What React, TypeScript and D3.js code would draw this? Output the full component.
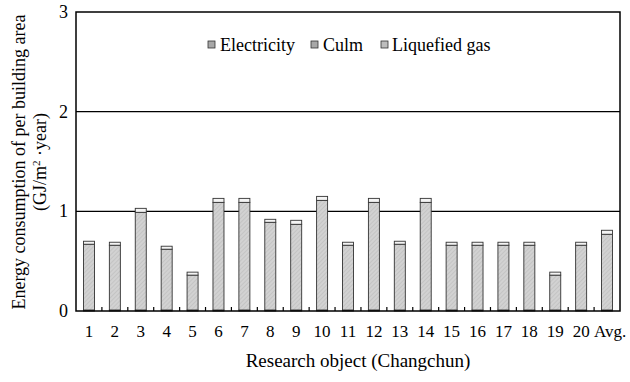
import React from "react";
import * as d3 from "d3";

const categories = ["1", "2", "3", "4", "5", "6", "7", "8", "9", "10", "11", "12", "13", "14", "15", "16", "17", "18", "19", "20", "Avg."];
const electricity = [0.01, 0.01, 0.01, 0.01, 0.01, 0.01, 0.01, 0.01, 0.01, 0.01, 0.01, 0.01, 0.01, 0.01, 0.01, 0.01, 0.01, 0.01, 0.01, 0.01, 0.01];
const culm = [0.66, 0.65, 0.98, 0.61, 0.35, 1.08, 1.08, 0.88, 0.86, 1.10, 0.65, 1.08, 0.66, 1.08, 0.65, 0.65, 0.65, 0.65, 0.35, 0.65, 0.76];
const liquefiedGas = [0.03, 0.03, 0.04, 0.03, 0.03, 0.04, 0.04, 0.03, 0.04, 0.04, 0.03, 0.04, 0.03, 0.04, 0.03, 0.03, 0.03, 0.03, 0.03, 0.03, 0.04];
const yTicks = [0, 1, 2, 3];
const seriesNames = ["Electricity", "Culm", "Liquefied gas"];

const W = 630;
const H = 382;
const margin = { top: 12, right: 10, bottom: 71, left: 76 };
const font = "'Liberation Serif', 'Times New Roman', serif";

const App = () => {
  const x = d3
    .scaleBand()
    .domain(categories)
    .range([margin.left, W - margin.right])
    .paddingInner(0)
    .paddingOuter(0);
  const y = d3.scaleLinear().domain([0, 3]).range([H - margin.bottom, margin.top]);

  const rows = categories.map((c, i) => ({ cat: c, e: electricity[i], c: culm[i], g: liquefiedGas[i] }));
  const stack = d3.stack<any>().keys(["e", "c", "g"])(rows);
  const fills = ["#6e6e6e", "url(#hatch)", "#f4f4f4"];

  const bw = 11;
  const x0 = margin.left;
  const x1 = W - margin.right;
  const y0 = y(0);

  const legendItems = [
    { name: seriesNames[0], sx: 208, tx: 220 },
    { name: seriesNames[1], sx: 311, tx: 323 },
    { name: seriesNames[2], sx: 381, tx: 392 },
  ];

  return (
    <svg width={W} height={H} style={{ position: "absolute", left: 0, top: 0, background: "#fff" }}>
      <defs>
        <pattern id="hatch" width="3" height="3" patternUnits="userSpaceOnUse" patternTransform="rotate(45)">
          <rect width="3" height="3" fill="#d2d2d2" />
          <line x1="0" y1="0" x2="0" y2="3" stroke="#b0b0b0" strokeWidth="0.8" />
        </pattern>
      </defs>

      {/* gridlines */}
      {yTicks.slice(1, 3).map(t => (
        <line key={t} x1={x0} x2={x1} y1={y(t)} y2={y(t)} stroke="#000" strokeWidth={1.3} />
      ))}

      {/* bars */}
      {stack.map((layer, li) =>
        layer.map((d, i) => (
          <rect
            key={`${li}-${i}`}
            x={(x(categories[i]) as number) + x.bandwidth() / 2 - bw / 2}
            y={y(d[1])}
            width={bw}
            height={Math.max(0, y(d[0]) - y(d[1]))}
            fill={fills[li]}
            stroke="#333"
            strokeWidth={0.9}
          />
        ))
      )}

      {/* frame */}
      <rect x={x0} y={margin.top} width={x1 - x0} height={y0 - margin.top} fill="none" stroke="#000" strokeWidth={1.5} />

      {/* x ticks between categories */}
      {categories.slice(1).map(c => (
        <line key={c} x1={x(c)} x2={x(c)} y1={y0} y2={y0 - 4} stroke="#000" strokeWidth={1.2} />
      ))}

      {/* y tick labels */}
      {yTicks.map(t => (
        <text key={t} x={x0 - 8} y={y(t) + 6} textAnchor="end" fontFamily={font} fontSize={18}>
          {t}
        </text>
      ))}

      {/* x tick labels */}
      {categories.map(c => (
        <text key={c} x={(x(c) as number) + x.bandwidth() / 2 + (c === "Avg." ? 3 : 0)} y={337} textAnchor="middle" fontFamily={font} fontSize={17}>
          {c}
        </text>
      ))}

      {/* axis titles */}
      <text x={358} y={367} textAnchor="middle" fontFamily={font} fontSize={19}>
        Research object (Changchun)
      </text>
      <g transform="translate(25,162) rotate(-90)">
        <text x={0} y={0} textAnchor="middle" fontFamily={font} fontSize={18}>
          Energy consumption of per building area
        </text>
        <text x={0} y={21} textAnchor="middle" fontFamily={font} fontSize={18}>
          (GJ/m<tspan dy={-6} fontSize={11}>2</tspan>
          <tspan dy={6}> ·year)</tspan>
        </text>
      </g>

      {/* legend */}
      {legendItems.map((l, i) => (
        <g key={l.name}>
          <rect x={l.sx} y={41} width={7} height={7} fill={i === 2 ? "#bdbdbd" : "#a8a8a8"} stroke="#333" strokeWidth={0.8} />
          <text x={l.tx} y={51} fontFamily={font} fontSize={18}>
            {l.name}
          </text>
        </g>
      ))}
    </svg>
  );
};

export default App;
